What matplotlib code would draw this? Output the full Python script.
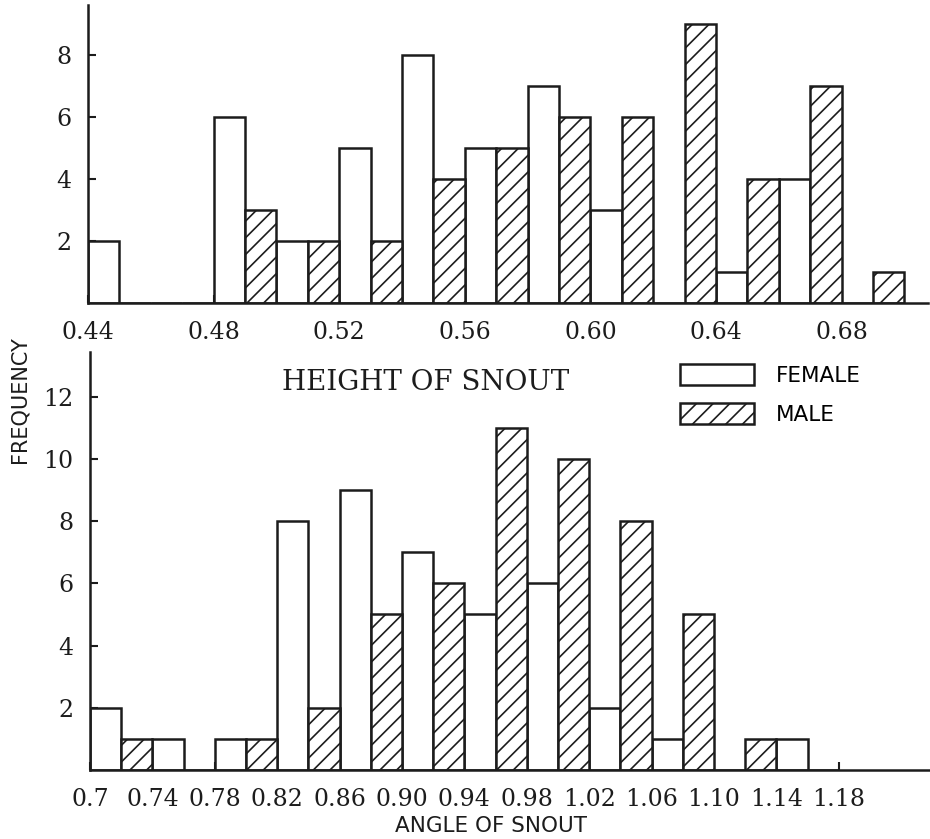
import matplotlib
matplotlib.use("Agg")
import matplotlib.pyplot as plt
from matplotlib.patches import Patch

# Height of snout: bins of width 0.02, female in left half, male in right half
height_bins = [0.44, 0.46, 0.48, 0.50, 0.52, 0.54, 0.56, 0.58, 0.60, 0.62, 0.64, 0.66, 0.68]
height_female = [2, 0, 6, 2, 5, 8, 5, 7, 3, 0, 1, 4, 0]
height_male = [0, 0, 3, 2, 2, 4, 5, 6, 6, 9, 4, 7, 1]
height_ticks = [0.44, 0.48, 0.52, 0.56, 0.60, 0.64, 0.68]
height_ticklabels = ["0.44", "0.48", "0.52", "0.56", "0.60", "0.64", "0.68"]
height_yticks = [2, 4, 6, 8]

# Angle of snout: bins of width 0.04, female in left half, male in right half
angle_bins = [0.70, 0.74, 0.78, 0.82, 0.86, 0.90, 0.94, 0.98, 1.02, 1.06, 1.10, 1.14]
angle_female = [2, 1, 1, 8, 9, 7, 5, 6, 2, 1, 0, 1]
angle_male = [1, 0, 1, 2, 5, 6, 11, 10, 8, 5, 1, 0]
angle_ticks = [0.70, 0.74, 0.78, 0.82, 0.86, 0.90, 0.94, 0.98, 1.02, 1.06, 1.10, 1.14, 1.18]
angle_ticklabels = ["0.7", "0.74", "0.78", "0.82", "0.86", "0.90", "0.94", "0.98",
                    "1.02", "1.06", "1.10", "1.14", "1.18"]
angle_yticks = [2, 4, 6, 8, 10, 12]

INK = "#1c1c1c"
SERIF = ["DejaVu Serif"]
SANS = ["DejaVu Sans"]
plt.rcParams["hatch.linewidth"] = 1.2
plt.rcParams["hatch.color"] = INK

W, H = 930, 839
fig = plt.figure(figsize=(W / 100, H / 100), dpi=100)


def px_axes(left, right, top, bottom):
    return fig.add_axes([left / W, 1 - bottom / H, (right - left) / W, (bottom - top) / H])


def style_axis(ax, xticks, xlabels, yticks):
    for side in ("top", "right"):
        ax.spines[side].set_visible(False)
    for side in ("left", "bottom"):
        ax.spines[side].set_linewidth(1.8)
        ax.spines[side].set_color(INK)
    ax.set_xticks(xticks)
    ax.set_xticklabels(xlabels, fontfamily=SERIF, fontsize=17, color=INK)
    ax.set_yticks(yticks)
    ax.set_yticklabels([str(v) for v in yticks], fontfamily=SERIF, fontsize=17, color=INK)
    ax.tick_params(axis="both", direction="in", length=6, width=1.5, color=INK)
    ax.tick_params(axis="x", pad=13)
    ax.tick_params(axis="y", pad=12)


def draw_pairs(ax, bins, female, male, half):
    fem_x = [b for b in bins]
    male_x = [b + half for b in bins]
    ax.bar(fem_x, female, width=half, align="edge", facecolor="white",
           edgecolor=INK, linewidth=1.8, zorder=2)
    ax.bar(male_x, male, width=half, align="edge", facecolor="white",
           edgecolor=INK, linewidth=1.8, hatch="//", zorder=2)


# Upper panel: height of snout
ax1 = px_axes(88, 928, 5, 303)
draw_pairs(ax1, height_bins, height_female, height_male, 0.01)
ax1.set_xlim(0.44, 0.7075)
ax1.set_ylim(0, 9.61)
style_axis(ax1, height_ticks, height_ticklabels, height_yticks)

# Lower panel: angle of snout
ax2 = px_axes(90, 930, 352, 770)
draw_pairs(ax2, angle_bins, angle_female, angle_male, 0.02)
ax2.set_xlim(0.70, 1.2385)
ax2.set_ylim(0, 13.44)
style_axis(ax2, angle_ticks, angle_ticklabels, angle_yticks)

fig.text(426 / W, 1 - 383 / H, "HEIGHT OF SNOUT", fontfamily=SERIF, fontsize=20,
         color=INK, ha="center", va="center")
fig.text(20 / W, 1 - 400 / H, "FREQUENCY", fontfamily=SANS, fontsize=15,
         color=INK, ha="center", va="center", rotation=90)
fig.text(491 / W, 1 - 826 / H, "ANGLE OF SNOUT", fontfamily=SANS, fontsize=15.5,
         color=INK, ha="center", va="center")

handles = [
    Patch(facecolor="white", edgecolor=INK, linewidth=1.8),
    Patch(facecolor="white", edgecolor=INK, linewidth=1.8, hatch="//"),
]
fig.legend(handles, ["FEMALE", "MALE"], loc="upper left",
           bbox_to_anchor=(680 / W, 1 - 364 / H), frameon=False,
           prop={"family": SANS, "size": 15.5},
           handlelength=3.45, handleheight=1.1, handletextpad=1.0,
           labelspacing=0.8, borderpad=0, borderaxespad=0)

fig.savefig("out.png", dpi=100, facecolor="white")
